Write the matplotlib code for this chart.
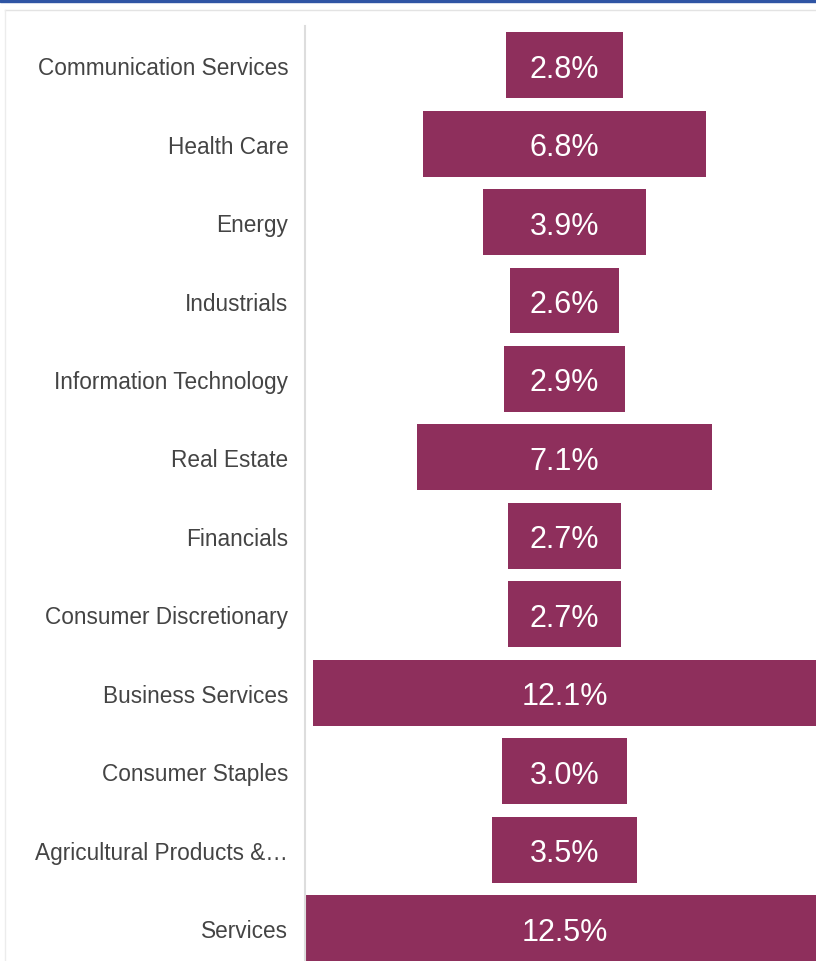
import matplotlib.pyplot as plt
from matplotlib.lines import Line2D
from matplotlib.patches import Rectangle

sectors = ['Communication Services', 'Health Care', 'Energy', 'Industrials',
           'Information Technology', 'Real Estate', 'Financials',
           'Consumer Discretionary', 'Business Services', 'Consumer Staples',
           'Agricultural Products &\u2026', 'Services']
values = [2.8, 6.8, 3.9, 2.6, 2.9, 7.1, 2.7, 2.7, 12.1, 3.0, 3.5, 12.5]

plt.rcParams['font.family'] = ['Liberation Sans', 'DejaVu Sans']

W, H = 816, 962
fig = plt.figure(figsize=(W / 100, H / 100), dpi=100)

# card decoration: blue strip on top, thin grey borders
fig.patches.append(Rectangle((0, 1 - 3 / H), 1, 3 / H, transform=fig.transFigure,
                             color='#2f55a4', zorder=0))
fig.lines.append(Line2D([5 / W, 1], [1 - 11 / H, 1 - 11 / H], transform=fig.transFigure,
                        color='#e3e3e3', lw=1))
fig.lines.append(Line2D([5 / W, 5 / W], [0, 1 - 11 / H], transform=fig.transFigure,
                        color='#ececec', lw=1))

ax = fig.add_axes([305 / W, 0, (W - 305) / W, (H - 27) / H])
y = list(range(len(sectors)))
lefts = [-v / 2 for v in values]
ax.barh(y, values, left=lefts, height=0.84, color='#8e2f5c')
for yi, v in zip(y, values):
    ax.text(0, yi, f'{v:.1f}%', ha='center', va='center_baseline',
            color='white', fontsize=22)

ax.set_xlim(-6.24, 6.05)
ax.set_ylim(11.42, -0.5)
ax.set_yticks(y)
ax.set_yticklabels(sectors, fontsize=16.3, color='#444444')
ax.tick_params(axis='y', length=0, pad=12)
ax.set_xticks([])
for s in ['top', 'right', 'bottom']:
    ax.spines[s].set_visible(False)
ax.spines['left'].set_color('#dddddd')
ax.spines['left'].set_linewidth(1.5)

fig.savefig('out.png', dpi=100)
